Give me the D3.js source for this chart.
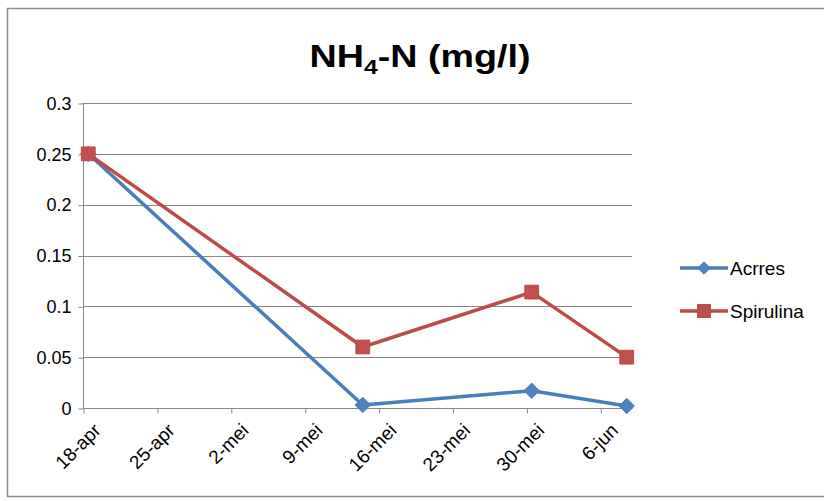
<!DOCTYPE html>
<html>
<head>
<meta charset="utf-8">
<script src="https://cdn.jsdelivr.net/npm/d3@7"></script>
<style>
  html, body { margin: 0; padding: 0; background: #fff; }
  svg { display: block; }
  text { font-family: "Liberation Sans", "DejaVu Sans", sans-serif; fill: #000; }
</style>
</head>
<body>
<svg id="chart" width="824" height="501"></svg>
<script>
// Sampling dates and NH4-N readings per pond
const sampleDates = ["2010-04-18", "2010-05-14", "2010-05-30", "2010-06-08"];
const acrresValues = [0.25, 0.003, 0.017, 0.002];
const spirulinaValues = [0.25, 0.06, 0.114, 0.05];
const seriesNames = ["Acrres", "Spirulina"];
const seriesColors = ["#4A7EBB", "#BE4B48"];
const markerColors = ["#4F81BD", "#C0504D"];
const yTicks = [0, 0.05, 0.1, 0.15, 0.2, 0.25, 0.3];
const xTickDates = ["2010-04-18", "2010-04-25", "2010-05-02", "2010-05-09",
                    "2010-05-16", "2010-05-23", "2010-05-30", "2010-06-06"];
const monthNames = ["jan", "feb", "mrt", "apr", "mei", "jun", "jul", "aug", "sep", "okt", "nov", "dec"];

const parse = d3.utcParse("%Y-%m-%d");
const DAY = 864e5;
const diamond = d3.symbolDiamond2 || d3.symbolDiamond;

const svg = d3.select("#chart");

// Outer chart frame
svg.append("rect")
  .attr("x", 7.5).attr("y", 8.5).attr("width", 840).attr("height", 488)
  .attr("fill", "#fff").attr("stroke", "#8c8c8c").attr("stroke-width", 1.5);

const plot = { left: 83, right: 632, top: 103, bottom: 408 };

// Date axis: each day is a slot, points sit in the middle of their day
const x = d3.scaleUtc()
  .domain([parse("2010-04-18"), new Date(parse("2010-06-08").getTime() + DAY)])
  .range([plot.left, plot.right]);
const y = d3.scaleLinear().domain([0, 0.3]).range([plot.bottom, plot.top]);
const px = d => x(new Date(parse(d).getTime() + DAY / 2));

// Horizontal gridlines
svg.append("g")
  .selectAll("line").data(yTicks.filter(v => v > 0)).join("line")
  .attr("x1", plot.left).attr("x2", plot.right)
  .attr("y1", d => Math.round(y(d)) + 0.5).attr("y2", d => Math.round(y(d)) + 0.5)
  .attr("stroke", "#878787").attr("stroke-width", 1);

// Y axis
const yAxis = svg.append("g")
  .attr("transform", `translate(${plot.left + 0.5},0.5)`)
  .call(d3.axisLeft(y).tickValues(yTicks).tickSize(5).tickPadding(7)
    .tickFormat(d => d3.format("")(+d.toFixed(2))));
yAxis.select(".domain").attr("stroke", "#878787").attr("d", `M0,${plot.top}V${plot.bottom}`);
yAxis.selectAll(".tick line").attr("stroke", "#878787");
yAxis.selectAll(".tick text")
  .style("font-size", "18px").style("font-family", "Liberation Sans, sans-serif")
  .attr("fill", "#000");

// X axis
const xAxis = svg.append("g")
  .attr("transform", `translate(0.5,${plot.bottom + 0.5})`)
  .call(d3.axisBottom(x).tickValues(xTickDates.map(parse)).tickSize(5)
    .tickFormat(d => `${d.getUTCDate()}-${monthNames[d.getUTCMonth()]}`));
xAxis.select(".domain").attr("stroke", "#878787").attr("d", `M${plot.left},0H${plot.right}`);
xAxis.selectAll(".tick line").attr("stroke", "#878787");
xAxis.selectAll(".tick text")
  .style("font-size", "19px").style("font-family", "Liberation Sans, sans-serif")
  .attr("fill", "#000")
  .attr("text-anchor", "end")
  .attr("dy", null)
  .attr("transform", "translate(18,23) rotate(-45)")
  .attr("y", 0).attr("x", 0);

// Series lines and markers
const series = [acrresValues, spirulinaValues];
const line = d3.line().x(d => px(d[0])).y(d => y(d[1]));
series.forEach((vals, i) => {
  const pts = sampleDates.map((d, j) => [d, vals[j]]);
  svg.append("path").datum(pts)
    .attr("d", line).attr("fill", "none")
    .attr("stroke", seriesColors[i]).attr("stroke-width", 3.5)
    .attr("stroke-linejoin", "round");
  const sym = i === 0 ? diamond : d3.symbolSquare;
  const size = i === 0 ? 150 : 190;
  svg.append("g").selectAll("path").data(pts).join("path")
    .attr("transform", d => `translate(${px(d[0])},${y(d[1])})`)
    .attr("d", d3.symbol(sym, size))
    .attr("fill", markerColors[i])
    .attr("stroke", seriesColors[i]).attr("stroke-width", 1);
});

// Title with subscript
const title = svg.append("text")
  .attr("x", 420).attr("y", 67)
  .attr("text-anchor", "middle")
  .style("font-size", "32px").style("font-weight", "bold");
title.append("tspan").text("NH");
title.append("tspan").text("4").attr("dy", 7).style("font-size", "21px");
title.append("tspan").text("-N (mg/l)").attr("dy", -7);
// condense the heading to the narrow title width
const tb = title.node().getBBox();
const targetW = 221;
const sx = targetW / tb.width;
title.attr("transform", `translate(${420 * (1 - sx)},0) scale(${sx},1)`);

// Legend
const legend = svg.append("g");
seriesNames.forEach((name, i) => {
  const ly = 268 + i * 43;
  legend.append("line")
    .attr("x1", 680).attr("x2", 728).attr("y1", ly).attr("y2", ly)
    .attr("stroke", seriesColors[i]).attr("stroke-width", 3.5);
  legend.append("path")
    .attr("transform", `translate(704,${ly})`)
    .attr("d", d3.symbol(i === 0 ? diamond : d3.symbolSquare, i === 0 ? 100 : 170))
    .attr("fill", markerColors[i]).attr("stroke", seriesColors[i]);
  legend.append("text")
    .attr("x", 730).attr("y", ly + 7)
    .style("font-size", "19px")
    .text(name);
});
</script>
</body>
</html>
